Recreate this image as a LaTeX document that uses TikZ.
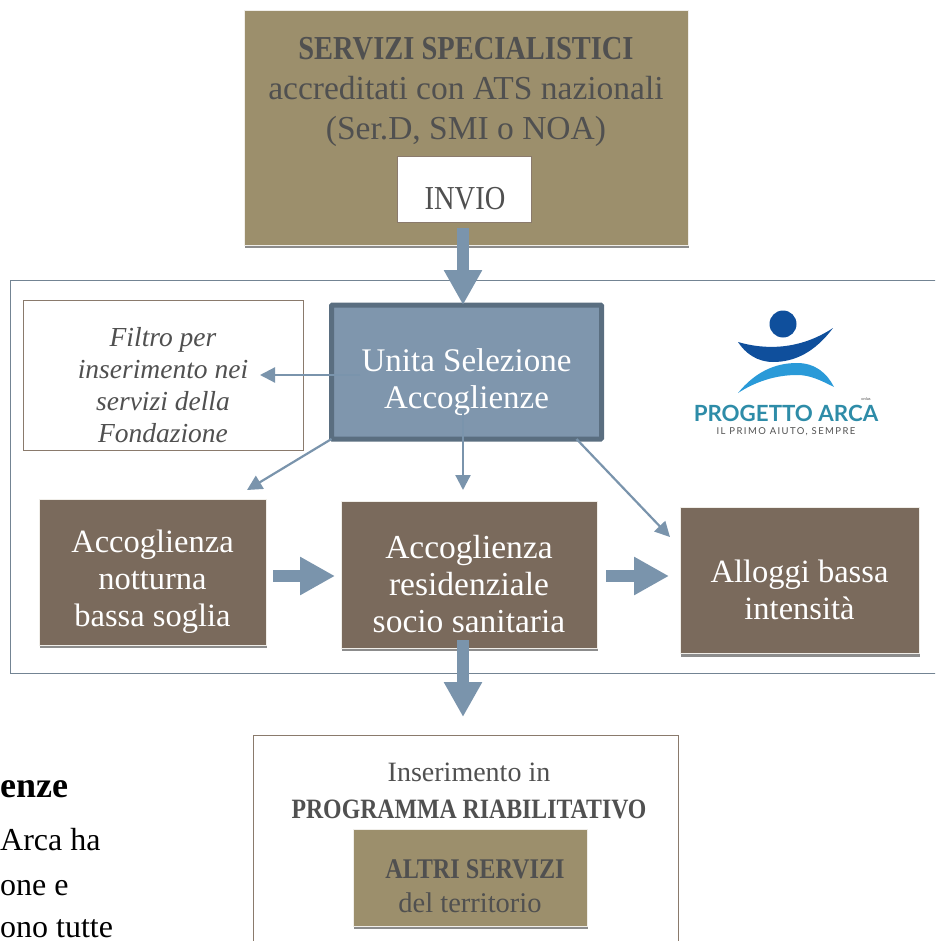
\documentclass[tikz,border=0pt]{standalone}
\usepackage{fontspec}
\setmainfont{Liberation Serif}
\newfontfamily\narrowfont[FakeStretch=0.85]{Liberation Serif}
\newfontfamily\logofont{Lato}
\usetikzlibrary{arrows.meta,shadows}
\definecolor{tanfill}{HTML}{9C8F6C}
\definecolor{brownfill}{HTML}{7A6A5C}
\definecolor{bluefill}{HTML}{7F96AD}
\definecolor{blueedge}{HTML}{5A6E80}
\definecolor{arrowblue}{HTML}{7A94AC}
\definecolor{greytext}{HTML}{505050}
\definecolor{thinbrown}{HTML}{8A7A6C}
\definecolor{logodark}{HTML}{0F4F9C}
\definecolor{logolight}{HTML}{2A9AD8}
\definecolor{logotext}{HTML}{2E8CA8}
\tikzset{
  box/.style={shape=rectangle,inner sep=0pt,outer sep=0pt,align=center},
  shadowbox/.style={box,draw=white!85!tanfill,line width=1pt,
    drop shadow={shadow xshift=1pt,shadow yshift=-3pt,opacity=0.45,fill=black}},
  tanbox/.style={shadowbox,fill=tanfill},
  brownbox/.style={shadowbox,fill=brownfill,minimum height=146pt},
  thinbox/.style={box,draw=thinbrown,line width=0.8pt,fill=white},
  whitetext/.style={box,text=white,font=\fontsize{32.5}{37}\selectfont},
  greylines/.style={box,text=greytext},
  bigarrow/.style={draw=arrowblue,line width=12pt,-{Triangle[length=35pt,width=36pt]}},
  thinarrow/.style={draw=arrowblue,line width=2.2pt,-{Triangle[length=15pt,width=15pt]}},
  sidetext/.style={inner sep=0pt,anchor=base west,font=\fontsize{32}{32}\selectfont,text=black}
}
\begin{document}
\begin{tikzpicture}[x=1pt,y=-1pt]
  \useasboundingbox (0,0) rectangle (935,941);
  \clip (0,0) rectangle (935,941);
  % outer frame runs off the page on the right
  \draw[draw=blueedge!85!white,line width=1pt] (960,280) -- (10,280) -- (10,673) -- (960,673);
  % top box
  \node[tanbox,minimum width=444pt,minimum height=234pt] (servizi) at (466,128) {};
  \node[greylines,font=\fontsize{33.5}{40}\selectfont] (servizitext) at (466,92)
    {{\narrowfont\bfseries SERVIZI SPECIALISTICI}\\accreditati con ATS nazionali\\(Ser.D, SMI o NOA)};
  \node[thinbox,minimum width=134pt,minimum height=66pt] (invio) at (464,189) {};
  \node[greylines,font=\narrowfont\fontsize{33.5}{34}\selectfont] (inviotext) at (465,199) {INVIO};
  % filter box
  \node[thinbox,minimum width=280pt,minimum height=150pt] (filtro) at (163,375) {};
  \node[greylines,font=\itshape\fontsize{27.5}{32}\selectfont] (filtrotext) at (163,385)
    {Filtro per\\inserimento nei\\servizi della\\Fondazione};
  % selection unit
  \node[box,fill=bluefill,draw=blueedge,line width=5pt,minimum width=270pt,minimum height=134pt,
    rounded corners=1pt] (selezione) at (466.5,372) {};
  \node[whitetext,font=\fontsize{33}{37}\selectfont] (selezionetext) at (466.5,382) {Unita Selezione\\Accoglienze};
  % three services
  \node[brownbox,minimum width=227pt] (notturna) at (152.5,572) {};
  \node[whitetext] (notturnatext) at (152.5,582) {Accoglienza\\notturna\\bassa soglia};
  \node[brownbox,minimum width=256pt,minimum height=147pt] (residenziale) at (469,574.5) {};
  \node[whitetext,font=\fontsize{33.5}{37}\selectfont] (residenzialetext) at (469,584)
    {Accoglienza\\residenziale\\socio sanitaria};
  \node[brownbox,minimum width=239pt] (alloggi) at (799.5,580.5) {};
  \node[whitetext] (alloggitext) at (799.5,590) {Alloggi bassa\\intensità};
  % bottom box
  \node[thinbox,minimum width=425pt,minimum height=260pt,anchor=north west] (programma) at (253,735) {};
  \node[greylines,font=\fontsize{28}{37}\selectfont] (programmatext) at (469,791)
    {Inserimento in\\{\narrowfont\bfseries PROGRAMMA RIABILITATIVO}};
  \node[tanbox,minimum width=234pt,minimum height=97pt] (altri) at (470,877.5) {};
  \node[greylines,font=\fontsize{28.5}{34}\selectfont] (altritext) at (470,886)
    {{\narrowfont\bfseries\hspace{10pt}ALTRI SERVIZI}\\del territorio};
  % cut off text on the left
  \node[sidetext,font=\bfseries\fontsize{36}{36}\selectfont] (enze) at (0,797) {enze};
  \node[sidetext] (arca) at (0,850) {Arca ha};
  \node[sidetext] (one) at (0,895) {one e};
  \node[sidetext] (tutte) at (0,937) {ono tutte};
  % logo
  \fill[logodark] (783,324) circle (13.5);
  \fill[logodark] (738,342) .. controls (765,350) and (800,350) .. (833,328)
    .. controls (815,352) and (795,362) .. (773,362) .. controls (757,362) and (745,353) .. (738,342) -- cycle;
  \fill[logolight] (738,393) .. controls (755,372) and (775,363) .. (797,363)
    .. controls (815,363) and (827,373) .. (834,387) .. controls (820,380) and (810,375) .. (797,375)
    .. controls (775,375) and (755,382) .. (738,393) -- cycle;
  \node[inner sep=0pt,text=logotext,font=\logofont\bfseries\fontsize{22.3}{24}\selectfont] (logoname) at (786,413) {PROGETTO ARCA};
  \node[inner sep=0pt,text=greytext,font=\logofont\fontsize{9.5}{10}\selectfont\addfontfeature{LetterSpace=15}] (logomotto) at (786,432) {IL PRIMO AIUTO, SEMPRE};
  \node[inner sep=0pt,text=greytext,font=\logofont\fontsize{4}{4}\selectfont] (logoonlus) at (866,399) {onlus};
  % connectors
  \coordinate (fromsel) at (360,375);
  \coordinate (tofiltro) at (260,375);
  \coordinate (tonotturna) at (247,490);
  \coordinate (fromselmid) at (463,410);
  \coordinate (toresid) at (463,490);
  \coordinate (toalloggi) at (670,537);
  \coordinate (fromresid) at (463,640);
  \coordinate (toprog) at (463,717);
  \coordinate (frominvio) at (463,228);
  \draw[bigarrow] (frominvio) -- (selezione.north -| frominvio);
  \draw[thinarrow] (fromsel) -- (tofiltro);
  \draw[thinarrow] (selezione.south west) -- (tonotturna);
  \draw[thinarrow] (fromselmid) -- (toresid);
  \draw[thinarrow] (selezione.south east) ++(-25,0) coordinate (fromselright) -- (toalloggi);
  \draw[bigarrow,shorten >=6pt] (notturna.east) ++(7,4) coordinate (fromnott) -- (residenziale.west |- fromnott);
  \draw[bigarrow,shorten >=11pt] (residenziale.east) ++(9,1.5) coordinate (fromres2) -- (alloggi.west |- fromres2);
  \draw[bigarrow] (fromresid) -- (toprog);
\end{tikzpicture}
\end{document}
